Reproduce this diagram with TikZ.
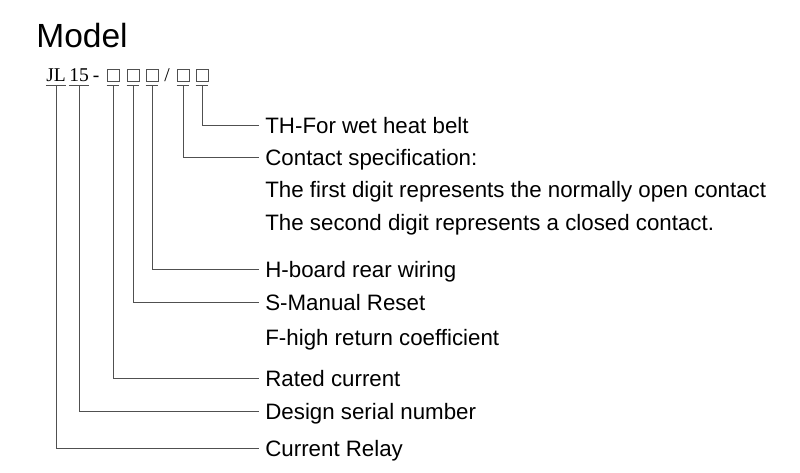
\documentclass[tikz,border=0pt]{standalone}
\usepackage{fontspec}
\setmainfont{Liberation Sans}
\newfontfamily\codefont{Liberation Serif}
\usetikzlibrary{positioning}
\definecolor{linegray}{RGB}{80,80,80}

\begin{document}
\begin{tikzpicture}[x=1pt, y=-1pt, line width=0.7pt,
   desc/.style={anchor=west, inner xsep=6pt, inner ysep=0pt, text height=16pt, text depth=0pt,
                font=\fontsize{22.3}{26}\selectfont},
   part/.style={anchor=base, inner sep=0pt, text depth=0pt, font=\codefont\fontsize{19.5}{22}\selectfont},
   slot/.style={draw=linegray, line width=0.6pt, minimum size=12pt, inner sep=0pt},
   lead/.style={draw=linegray}]
   \useasboundingbox (0,0) rectangle (800,472);

   \node[anchor=base west, inner sep=0pt, font=\fontsize{33.5}{38}\selectfont] (title) at (36,47) {Model};

   % type code
   \node[part] (jl)   at (56,81)  {JL};
   \node[part] (nr)   at (79,81)  {15};
   \node[part] (dash) at (96,81)  {-};
   \node[slot] (s1)   at (113,75) {};
   \node[slot] (s2)   at (133,75) {};
   \node[slot] (s3)   at (152,75) {};
   \node[part] (sl)   at (167,81) {/};
   \node[slot] (s4)   at (183,75) {};
   \node[slot] (s5)   at (202,75) {};

   % descriptions
   \node[desc] (th) at (259,125) {TH-For wet heat belt};
   \node[desc] (cs) at (259,157) {Contact specification:};
   \node[desc] (d1) at (259,189) {The first digit represents the normally open contact};
   \node[desc] (d2) at (259,222) {The second digit represents a closed contact.};
   \node[desc] (hb) at (259,269) {H-board rear wiring};
   \node[desc] (sr) at (259,302) {S-Manual Reset};
   \node[desc] (fh) at (259,337) {F-high return coefficient};
   \node[desc] (rc) at (259,378) {Rated current};
   \node[desc] (ds) at (259,411) {Design serial number};
   \node[desc] (cr) at (259,448) {Current Relay};

   \foreach \p/\l in {jl/cr, nr/ds, s1/rc, s2/sr, s3/hb, s4/cs, s5/th} {
      \draw[lead] ([yshift=-4pt]\p.south west) -- ([yshift=-4pt]\p.south east);
      \draw[lead] ([yshift=-4pt]\p.south) |- (\l.west);
   }
\end{tikzpicture}
\end{document}
